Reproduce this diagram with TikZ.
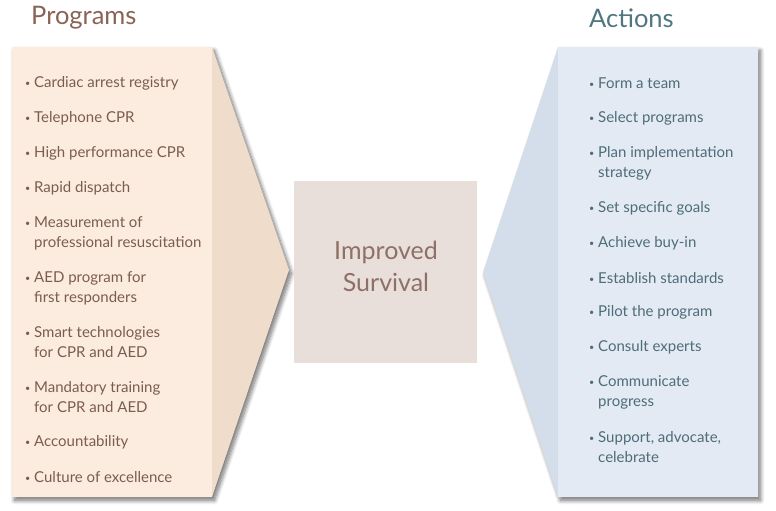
\documentclass[tikz,border=0pt]{standalone}
\usepackage{fontspec}
\setmainfont{Lato}
\usepackage{xcolor}
\usepackage{tikz}
\usetikzlibrary{positioning,shadows.blur}

\definecolor{progLight}{HTML}{FCECDF}
\definecolor{progDark}{HTML}{EFDCCB}
\definecolor{progText}{HTML}{7B5C50}
\definecolor{progTitle}{HTML}{8A6355}
\definecolor{midFill}{HTML}{E9DFDA}
\definecolor{midText}{HTML}{8E7068}
\definecolor{actLight}{HTML}{E4EAF3}
\definecolor{actDark}{HTML}{D4DDEA}
\definecolor{actText}{HTML}{4D6D78}
\definecolor{actTitle}{HTML}{4F7681}

\newcommand{\blt}{\makebox[9pt][l]{\raisebox{0.5pt}{\small\textbullet}}}
\newcommand{\ind}{\hspace*{9pt}}

\tikzset{
  panel/.style={blur shadow={shadow xshift=2.5pt,shadow yshift=-3.5pt,shadow blur radius=4pt,shadow blur steps=10,shadow opacity=55}},
  heading/.style={anchor=west,inner sep=0pt,font=\fontsize{25.5}{28}\selectfont},
  progitem/.style={anchor=west,align=left,inner sep=0pt,text=progText,font=\fontsize{15}{20}\selectfont},
  actitem/.style={anchor=west,align=left,inner sep=0pt,text=actText,font=\fontsize{15}{20}\selectfont}
}

\begin{document}
\begin{tikzpicture}[x=1pt,y=-1pt]
    \useasboundingbox (0,0) rectangle (776,511);

    % Programs panel
    \fill[progDark, panel] (12,47) -- (212,47) -- (289,270) -- (212,497) -- (12,497) -- cycle;
    \fill[progLight] (12,47) rectangle (212,497);

    % Actions panel
    \fill[actDark, panel] (758,47) -- (558,47) -- (483,272) -- (558,497) -- (758,497) -- cycle;
    \fill[actLight] (558,47) rectangle (758,497);

    % Middle box
    \node[fill=midFill, minimum width=183pt, minimum height=182pt, inner sep=0pt] (survival) at (385.5,272) {};
    \node[align=center, text=midText, font=\fontsize{25}{32}\selectfont] (survtext) at (386,266) {Improved\\Survival};

    % Headings
    \node[heading, text=progTitle] (programs) at (31,18) {Programs};
    \node[heading, text=actTitle] (actions) at (589,18) {Actions};

    % Program items
    \node[progitem] (p1) at (25,83) {\blt Cardiac arrest registry};
    \node[progitem] (p2) at (25,118) {\blt Telephone CPR};
    \node[progitem] (p3) at (25,153) {\blt High performance CPR};
    \node[progitem] (p4) at (25,188) {\blt Rapid dispatch};
    \node[progitem] (p5) at (25,233) {\blt Measurement of\\\ind professional resuscitation};
    \node[progitem] (p6) at (25,288) {\blt AED program for\\\ind first responders};
    \node[progitem] (p7) at (25,342) {\blt Smart technologies\\\ind for CPR and AED};
    \node[progitem] (p8) at (25,397) {\blt Mandatory training\\\ind for CPR and AED};
    \node[progitem] (p9) at (25,442) {\blt Accountability};
    \node[progitem] (p10) at (25,477) {\blt Culture of excellence};

    % Action items
    \node[actitem] (a1) at (589,83) {\blt Form a team};
    \node[actitem] (a2) at (589,118) {\blt Select programs};
    \node[actitem] (a3) at (589,163) {\blt Plan implementation\\\ind strategy};
    \node[actitem] (a4) at (589,208) {\blt Set specific goals};
    \node[actitem] (a5) at (589,243) {\blt Achieve buy-in};
    \node[actitem] (a6) at (589,278) {\blt Establish standards};
    \node[actitem] (a7) at (589,312) {\blt Pilot the program};
    \node[actitem] (a8) at (589,347) {\blt Consult experts};
    \node[actitem] (a9) at (589,392) {\blt Communicate\\\ind progress};
    \node[actitem] (a10) at (589,447) {\blt Support, advocate,\\\ind celebrate};

\end{tikzpicture}
\end{document}
